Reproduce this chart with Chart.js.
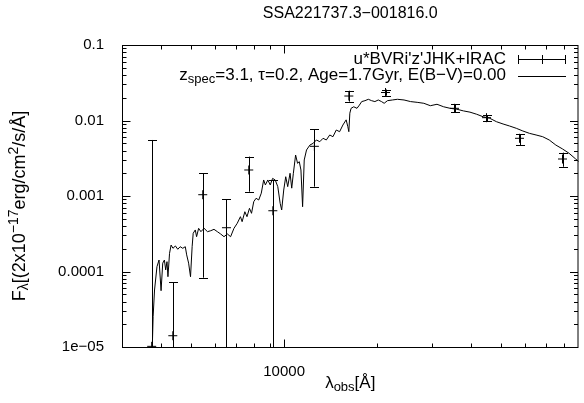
<!DOCTYPE html>
<html>
<head>
<meta charset="utf-8">
<script src="https://cdn.jsdelivr.net/npm/chart.js@4/dist/chart.umd.min.js"></script>
<style>
  html, body { margin: 0; background: #fff; }
  #wrap { width: 584px; height: 403px; }
</style>
</head>
<body>
<div id="wrap"><canvas id="sed"></canvas></div>
<script>
// model spectrum
const modelWave = [3740, 3780, 3820, 3890, 3950, 4010, 4060, 4110, 4150, 4190,
  4220, 4270, 4320, 4380, 4460, 4540, 4620, 4710, 4800, 4850,
  4920, 4990, 5050, 5090, 5170, 5220, 5300, 5390, 5520, 5660,
  5800, 5940, 6090, 6240, 6400, 6560, 6720, 6890, 7060, 7230,
  7320, 7470, 7590, 7730, 7850, 7980, 8120, 8280, 8440, 8590,
  8700, 8860, 9020, 9180, 9360, 9540, 9710, 9820, 9970, 10120,
  10270, 10450, 10580, 10710, 10890, 11050, 11190, 11330, 11470, 11610,
  11810, 12110, 12410, 12710, 13030, 13350, 13680, 14030, 14370, 14730,
  15100, 15470, 15850, 16050, 16170, 16290, 16440, 16770, 17180, 17490,
  17790, 18230, 18690, 19150, 19620, 20120, 20610, 21020, 21540, 22350,
  23190, 24360, 25570, 26860, 28220, 29620, 31120, 32690, 34310, 36060,
  37870, 39760, 41770, 43870, 46060, 48390, 50830, 53360, 56080, 58880,
  61820, 64940, 68220, 71610, 75210, 79030, 82970, 87160, 89740, 95000];
const modelFlux = [5e-6, 2.52e-5, 5.69e-5, 1.16e-4, 1.42e-4, 5.57e-5, 1.29e-4, 1.42e-4, 1.05e-4, 1.35e-4,
  8.53e-5, 1.74e-4, 2.24e-4, 2.03e-4, 2.18e-4, 1.97e-4, 2.13e-4, 2.03e-4, 2.13e-4, 1.66e-4,
  1.29e-4, 8.53e-5, 2.13e-4, 3.21e-4, 3.55e-4, 2.89e-4, 3.73e-4, 3.37e-4, 3.73e-4, 3.37e-4,
  3.47e-4, 3.62e-4, 3.37e-4, 3.14e-4, 2.89e-4, 3.14e-4, 2.89e-4, 3.73e-4, 4.35e-4, 5.32e-4,
  4.57e-4, 6.19e-4, 5.32e-4, 6.87e-4, 5.90e-4, 8.41e-4, 9.33e-4, 8.85e-4, 1.09e-3, 1.63e-3,
  1.40e-3, 1.63e-3, 1.40e-3, 1.71e-3, 1.63e-3, 1.33e-3, 8.0e-4, 6.53e-4, 1.20e-3, 1.80e-3,
  1.33e-3, 2.0e-3, 1.27e-3, 2.0e-3, 3.49e-3, 2.71e-3, 2.85e-3, 2.21e-3, 7.21e-4, 3.0e-3,
  4.07e-3, 4.73e-3, 4.99e-3, 5.52e-3, 5.24e-3, 5.81e-3, 5.52e-3, 6.43e-3, 6.10e-3, 7.48e-3,
  7.11e-3, 8.71e-3, 1.02e-2, 8.28e-3, 7.11e-3, 1.25e-2, 1.45e-2, 1.52e-2, 1.45e-2, 1.60e-2,
  1.78e-2, 1.83e-2, 1.91e-2, 1.83e-2, 1.78e-2, 1.87e-2, 1.78e-2, 1.69e-2, 1.83e-2, 1.87e-2,
  1.91e-2, 1.87e-2, 1.78e-2, 1.74e-2, 1.69e-2, 1.57e-2, 1.64e-2, 1.52e-2, 1.45e-2, 1.41e-2,
  1.34e-2, 1.29e-2, 1.21e-2, 1.12e-2, 1.07e-2, 9.64e-3, 8.99e-3, 8.45e-3, 7.88e-3, 7.26e-3,
  6.76e-3, 6.43e-3, 6.10e-3, 5.52e-3, 4.73e-3, 4.20e-3, 3.68e-3, 3.09e-3, 2.79e-3, 2.2e-3];

// photometry u* B V R i' z' J H K IRAC1-4
const photBands = ['u*', 'B', 'V', 'R', "i'", "z'", 'J', 'H', 'K', '3.6', '4.5', '5.8', '8.0'];
const photWave  = [3740, 4375, 5464, 6517, 7690, 9196, 12520, 16170, 21230, 35440, 44950, 57430, 79030];
const photFlux  = [1.02e-5, 1.41e-5, 1.04e-3, 3.80e-4, 2.21e-3, 6.38e-4, 4.55e-3, 2.11e-2, 2.35e-2, 1.45e-2, 1.09e-2, 5.81e-3, 3.09e-3];
const photUpper = [5.52e-3, 7.15e-5, 1.99e-3, 9.12e-4, 3.32e-3, 1.63e-3, 7.71e-3, 2.48e-2, 2.57e-2, 1.64e-2, 1.18e-2, 6.62e-3, 3.75e-3];
const photLower = [1e-6, 1e-6, 8.28e-5, 1e-6, 1.14e-3, 1e-6, 1.33e-3, 1.78e-2, 2.13e-2, 1.29e-2, 9.85e-3, 4.73e-3, 2.44e-3];

// axes
const yTicks = [1e-5, 1e-4, 1e-3, 1e-2, 1e-1];
const yTickLabels = ['1e\u221205', '0.0001', '0.001', '0.01', '0.1'];
const xTicks = [10000];
const xTickLabels = ['10000'];
const xMinor = [4000, 5000, 6000, 7000, 8000, 9000, 20000, 30000, 40000, 50000, 60000, 70000, 80000];

const FONT = '"Liberation Sans", Arial, sans-serif';

// draw a run of text pieces (normal / sub / sup) starting at x
function drawRich(ctx, parts, x, y) {
    parts.forEach(p => {
        ctx.font = p.size + 'px ' + FONT;
        ctx.fillText(p.t, x, y + (p.dy || 0));
        x += ctx.measureText(p.t).width;
    });
    return x;
}
function richWidth(ctx, parts) {
    let w = 0;
    parts.forEach(p => {
        ctx.font = p.size + 'px ' + FONT;
        w += ctx.measureText(p.t).width;
    });
    return w;
}

const gnuplotLook = {
    id: 'gnuplotLook',
    afterDatasetsDraw(chart) {
        const { ctx, chartArea: a, scales: { x, y } } = chart;
        ctx.save();
        ctx.beginPath();
        ctx.rect(a.left, a.top, a.right - a.left, a.bottom - a.top);
        ctx.clip();
        ctx.strokeStyle = '#000';
        ctx.lineWidth = 1;
        photWave.forEach((w, i) => {
            const px = Math.round(x.getPixelForValue(w)) + 0.5;
            const top = y.getPixelForValue(photUpper[i]);
            const bot = y.getPixelForValue(photLower[i]);
            ctx.beginPath();
            ctx.moveTo(px, top);
            ctx.lineTo(px, bot);
            ctx.moveTo(px - 4.5, Math.round(top) + 0.5);
            ctx.lineTo(px + 4.5, Math.round(top) + 0.5);
            ctx.moveTo(px - 4.5, Math.round(bot) + 0.5);
            ctx.lineTo(px + 4.5, Math.round(bot) + 0.5);
            ctx.stroke();
        });
        ctx.restore();
    },
    afterDraw(chart) {
        const { ctx, chartArea: a, scales: { x, y } } = chart;
        ctx.save();
        ctx.strokeStyle = '#000';
        ctx.fillStyle = '#000';
        ctx.lineWidth = 1;
        const L = a.left + 0.5, R = a.right - 0.5, T = a.top + 0.5, B = a.bottom + 0.5;
        ctx.strokeRect(L, T, R - L, B - T);

        // inward ticks
        ctx.beginPath();
        yTicks.forEach(v => {
            const py = Math.round(y.getPixelForValue(v)) + 0.5;
            ctx.moveTo(L, py); ctx.lineTo(L + 8, py);
            ctx.moveTo(R, py); ctx.lineTo(R - 8, py);
            if (v < 0.1) {
                for (let k = 2; k <= 9; k++) {
                    const pm = Math.round(y.getPixelForValue(v * k)) + 0.5;
                    ctx.moveTo(L, pm); ctx.lineTo(L + 4, pm);
                    ctx.moveTo(R, pm); ctx.lineTo(R - 4, pm);
                }
            }
        });
        xTicks.forEach(v => {
            const px = Math.round(x.getPixelForValue(v)) + 0.5;
            ctx.moveTo(px, B); ctx.lineTo(px, B - 8);
            ctx.moveTo(px, T); ctx.lineTo(px, T + 8);
        });
        xMinor.forEach(v => {
            const px = Math.round(x.getPixelForValue(v)) + 0.5;
            ctx.moveTo(px, B); ctx.lineTo(px, B - 4);
            ctx.moveTo(px, T); ctx.lineTo(px, T + 4);
        });
        ctx.stroke();

        // title
        ctx.textBaseline = 'middle';
        ctx.textAlign = 'center';
        ctx.font = '16px ' + FONT;
        ctx.fillText('SSA221737.3\u2212001816.0', (a.left + a.right) / 2, 14);

        // legend
        ctx.textAlign = 'left';
        const row1 = [{ t: "u*BVRi'z'JHK+IRAC", size: 17 }];
        const row2 = [{ t: 'z', size: 17 }, { t: 'spec', size: 13, dy: 4 },
            { t: '=3.1, \u03c4=0.2, Age=1.7Gyr, E(B\u2212V)=0.00', size: 17 }];
        const tx = 506;
        drawRich(ctx, row1, tx - richWidth(ctx, row1), 59);
        drawRich(ctx, row2, tx - richWidth(ctx, row2), 75);
        ctx.beginPath();
        ctx.moveTo(518, 59.5); ctx.lineTo(566, 59.5);
        ctx.moveTo(518.5, 55); ctx.lineTo(518.5, 64);
        ctx.moveTo(565.5, 55); ctx.lineTo(565.5, 64);
        ctx.moveTo(542.5, 55); ctx.lineTo(542.5, 64);
        ctx.moveTo(518, 76.5); ctx.lineTo(566, 76.5);
        ctx.stroke();

        // x axis title
        const xt = [{ t: '\u03bb', size: 17 }, { t: 'obs', size: 13, dy: 4 }, { t: '[\u00c5]', size: 17 }];
        drawRich(ctx, xt, (a.left + a.right) / 2 - richWidth(ctx, xt) / 2, 383);

        // y axis title
        const yt = [{ t: 'F', size: 18 }, { t: '\u03bb', size: 14, dy: 4 }, { t: '[(2x10', size: 18 },
            { t: '\u221217', size: 14, dy: -6 }, { t: 'erg/cm', size: 18 }, { t: '2', size: 14, dy: -6 },
            { t: '/s/\u00c5]', size: 18 }];
        ctx.translate(20, 206);
        ctx.rotate(-Math.PI / 2);
        drawRich(ctx, yt, -richWidth(ctx, yt) / 2, 0);
        ctx.restore();
    }
};

new Chart(document.getElementById('sed'), {
    type: 'scatter',
    data: {
        datasets: [
            {
                label: 'model',
                data: modelWave.map((w, i) => ({ x: w, y: modelFlux[i] })),
                showLine: true,
                borderColor: '#000',
                borderWidth: 1,
                pointRadius: 0,
                tension: 0
            },
            {
                label: 'photometry',
                data: photWave.map((w, i) => ({ x: w, y: photFlux[i] })),
                showLine: false,
                pointStyle: 'cross',
                pointRadius: 4.5,
                borderColor: '#000',
                borderWidth: 1
            }
        ]
    },
    options: {
        responsive: true,
        maintainAspectRatio: false,
        animation: false,
        layout: { padding: { top: 45, right: 1, left: 0, bottom: 0 } },
        scales: {
            x: {
                type: 'logarithmic',
                min: 3000,
                max: 89000,
                grid: { display: false },
                border: { display: false },
                afterBuildTicks: s => { s.ticks = xTicks.map(v => ({ value: v })); },
                afterFit: s => { s.height = 56; },
                ticks: {
                    color: '#000',
                    font: { family: FONT, size: 15 },
                    padding: 8,
                    maxRotation: 0,
                    autoSkip: false,
                    callback: (v, i) => xTickLabels[i]
                }
            },
            y: {
                type: 'logarithmic',
                min: 1e-5,
                max: 0.1,
                grid: { display: false },
                border: { display: false },
                afterBuildTicks: s => { s.ticks = yTicks.map(v => ({ value: v })); },
                afterFit: s => { s.width = 122; },
                ticks: {
                    color: '#000',
                    font: { family: FONT, size: 15 },
                    padding: 10,
                    autoSkip: false,
                    callback: (v, i) => yTickLabels[i]
                }
            }
        },
        plugins: {
            legend: { display: false },
            tooltip: { enabled: false }
        }
    },
    plugins: [gnuplotLook]
});
</script>
</body>
</html>
